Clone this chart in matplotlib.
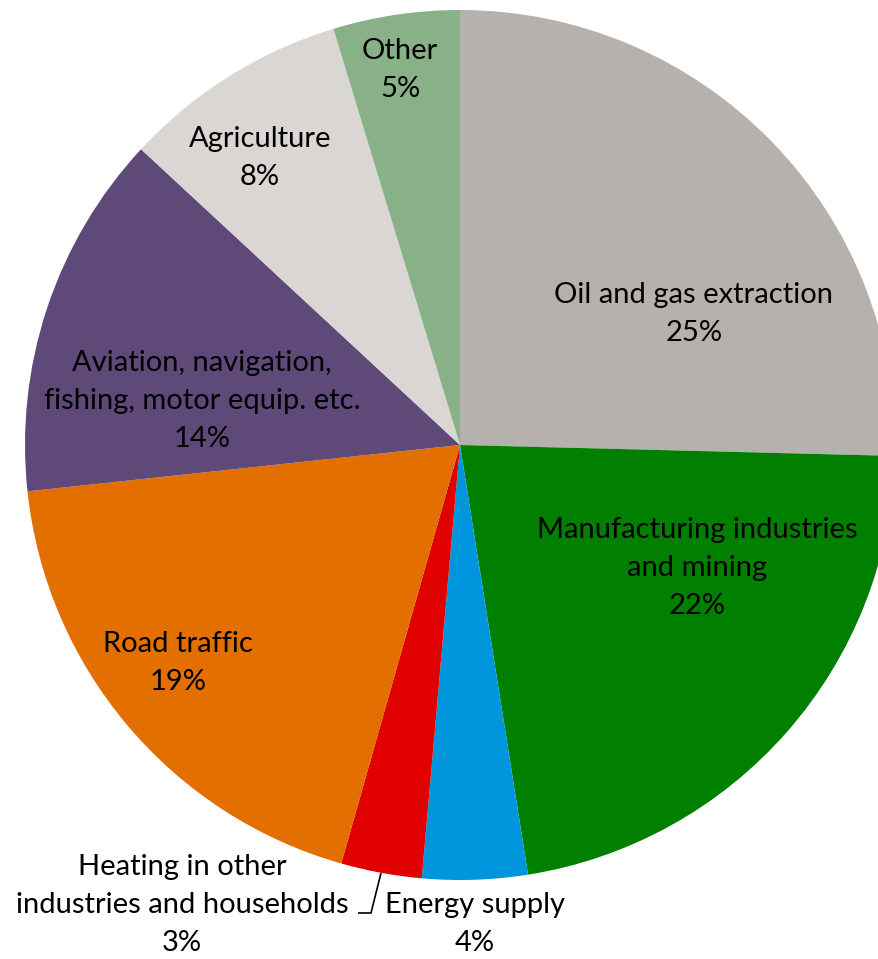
import numpy as np
import matplotlib
matplotlib.use("Agg")
import matplotlib.pyplot as plt

# parts of the emissions, clockwise from 12 o'clock
categories = ["Oil and gas extraction",
              "Manufacturing industries\nand mining",
              "Energy supply",
              "Heating in other\nindustries and households",
              "Road traffic",
              "Aviation, navigation,\nfishing, motor equip. etc.",
              "Agriculture",
              "Other"]
shares = [25.4, 22.1, 3.9, 3.0, 18.9, 13.6, 8.4, 4.7]
colors = ["#B7B1AE", "#007F00", "#0096DD", "#E00000",
          "#E36F00", "#5E4978", "#DAD6D4", "#88B187"]

# label centres in pixels of the picture (x, y from top)
label_px = [(694, 314), (697, 568), (475, 924), (182, 905),
            (178, 663), (202, 401), (260, 158), (400, 70)]

W, H = 879, 959
cx, cy, R = 460, 445, 435   # centre and radius of the pie, pixels

plt.rcParams['font.family'] = ['Lato', 'DejaVu Sans']

fig = plt.figure(figsize=(W / 100, H / 100), dpi=100)
ax = fig.add_axes([0, 0, 1, 1])

ax.pie(shares, colors=colors, startangle=90, counterclock=False,
       radius=1, center=(0, 0), frame=True,
       wedgeprops=dict(linewidth=0))
ax.set_xlim(-cx / R, (W - cx) / R)
ax.set_ylim(-(H - cy) / R, cy / R)
ax.set_aspect('auto')
ax.axis('off')

def to_data(px, py):
    return (px - cx) / R, (cy - py) / R

for name, val, (px, py) in zip(categories, shares, label_px):
    x, y = to_data(px, py)
    ax.text(x, y, "%s\n%d%%" % (name, round(val)), ha='center', va='center',
            fontsize=21, linespacing=1.55, color='black')

# leader line for the small heating slice
lx, ly = zip(to_data(381, 873), to_data(371, 913), to_data(358, 913))
ax.plot(lx, ly, color='black', lw=1.2, solid_capstyle='butt')

fig.savefig("out.png", dpi=100)
